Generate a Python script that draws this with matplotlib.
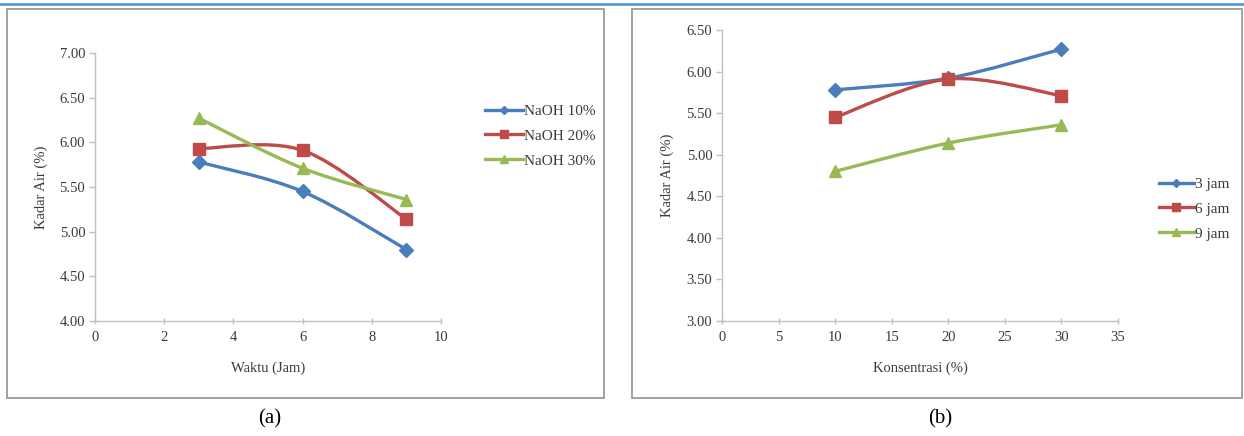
import numpy as np
import matplotlib
matplotlib.use("Agg")
import matplotlib.pyplot as plt
from matplotlib.path import Path
from matplotlib.patches import PathPatch, Rectangle
from matplotlib.lines import Line2D

plt.rcParams['font.family'] = ['Liberation Serif', 'DejaVu Serif']

# ---- data ----
waktu = [3, 6, 9]
naoh_labels = ["NaOH 10%", "NaOH 20%", "NaOH 30%"]
naoh10 = [5.78, 5.45, 4.80]
naoh20 = [5.93, 5.91, 5.14]
naoh30 = [6.27, 5.71, 5.36]

konsentrasi = [10, 20, 30]
jam_labels = ["3 jam", "6 jam", "9 jam"]
jam3 = [5.78, 5.92, 6.27]
jam6 = [5.45, 5.91, 5.71]
jam9 = [4.80, 5.14, 5.36]

a_xticks = [0, 2, 4, 6, 8, 10]
a_yticks = [4.00, 4.50, 5.00, 5.50, 6.00, 6.50, 7.00]
b_xticks = [0, 5, 10, 15, 20, 25, 30, 35]
b_yticks = [3.00, 3.50, 4.00, 4.50, 5.00, 5.50, 6.00, 6.50]

colors = ["#4a7ebb", "#be4b48", "#98b954"]
markers = ["D", "s", "^"]
msizes = [7, 9, 9]

W, H = 1244, 436
fig = plt.figure(figsize=(W / 100, H / 100), dpi=100)


def px_axes(x0, x1, ytop, ybot):
    return fig.add_axes([x0 / W, 1 - ybot / H, (x1 - x0) / W, (ybot - ytop) / H])


def smooth_path(xs, ys):
    pts = np.column_stack([xs, ys]).astype(float)
    n = len(pts)
    verts = [pts[0]]
    codes = [Path.MOVETO]
    for i in range(n - 1):
        p0 = pts[i - 1] if i > 0 else pts[i]
        p1 = pts[i]
        p2 = pts[i + 1]
        p3 = pts[i + 2] if i + 2 < n else pts[i + 1]
        c1 = p1 + (p2 - p0) / 6.0
        c2 = p2 - (p3 - p1) / 6.0
        verts += [c1, c2, p2]
        codes += [Path.CURVE4] * 3
    return Path(verts, codes)


def style_axes(ax, xticks, yticks, xlabel, ylabel, label_x, label_y):
    ax.set_xlim(xticks[0], xticks[-1])
    ax.set_ylim(yticks[0], yticks[-1])
    ax.set_xticks(xticks)
    ax.set_xticklabels([str(t) for t in xticks])
    ax.set_yticks(yticks)
    ax.set_yticklabels([f"{t:.2f}" for t in yticks])
    for s in ["top", "right"]:
        ax.spines[s].set_visible(False)
    for s in ["left", "bottom"]:
        ax.spines[s].set_color("#c0c0c0")
        ax.spines[s].set_linewidth(1.0)
    ax.tick_params(axis="both", colors="#c0c0c0", labelcolor="#3a3a3a",
                   labelsize=10.5, length=4, width=1.0)
    ax.tick_params(axis="x", direction="inout", pad=5)
    ax.tick_params(axis="y", direction="out", pad=3)
    ax.set_xlabel(xlabel, fontsize=10.5, color="#3a3a3a")
    ax.set_ylabel(ylabel, fontsize=10.5, color="#3a3a3a")
    ax.xaxis.set_label_coords(0.5, label_x)
    ax.yaxis.set_label_coords(label_y, 0.5)
    ax.patch.set_alpha(0)


def draw_series(ax, xs, series, labels):
    handles = []
    for ys, c, m, ms, lab in zip(series, colors, markers, msizes, labels):
        ax.add_patch(PathPatch(smooth_path(xs, ys), facecolor="none",
                               edgecolor=c, lw=2.4, zorder=2))
        ax.plot(xs, ys, linestyle="none", marker=m, ms=ms, color=c,
                markeredgecolor=c, zorder=3, clip_on=False)
        handles.append(Line2D([], [], color=c, lw=2.4, marker=m,
                              ms=ms * 0.65, label=lab))
    return handles


# frames
fig.add_artist(Line2D([0, 1], [1 - 4.5 / H, 1 - 4.5 / H], color="#5b9bd5",
                      lw=2.0, transform=fig.transFigure))
for (x0, x1) in [(7, 604), (632, 1242)]:
    fig.add_artist(Rectangle((x0 / W, 1 - 398 / H), (x1 - x0) / W, (398 - 9) / H,
                             transform=fig.transFigure, facecolor="none",
                             edgecolor="#9a9a9a", lw=1.3))

# panel (a)
axa = px_axes(95, 441, 53, 321)
ha = draw_series(axa, waktu, [naoh10, naoh20, naoh30], naoh_labels)
style_axes(axa, a_xticks, a_yticks, "Waktu (Jam)", "Kadar Air (%)",
           -0.15, -0.135)
fig.legend(handles=ha, loc="center left",
           bbox_to_anchor=(477 / W, 1 - 136 / H), frameon=False,
           fontsize=11, handlelength=2.5, handletextpad=0.1,
           labelspacing=0.72, borderpad=0, labelcolor="#3a3a3a")

# panel (b)
axb = px_axes(722, 1118, 30, 321)
hb = draw_series(axb, konsentrasi, [jam3, jam6, jam9], jam_labels)
style_axes(axb, b_xticks, b_yticks, "Konsentrasi (%)", "Kadar Air (%)",
           -0.138, -0.122)
fig.legend(handles=hb, loc="center left",
           bbox_to_anchor=(1151 / W, 1 - 209 / H), frameon=False,
           fontsize=11, handlelength=2.3, handletextpad=0.1,
           labelspacing=0.72, borderpad=0, labelcolor="#3a3a3a")

fig.text(270 / W, 1 - 419 / H, "(a)", ha="center", va="center", fontsize=15)
fig.text(940 / W, 1 - 419 / H, "(b)", ha="center", va="center", fontsize=15)

fig.savefig("out.png", dpi=100)
